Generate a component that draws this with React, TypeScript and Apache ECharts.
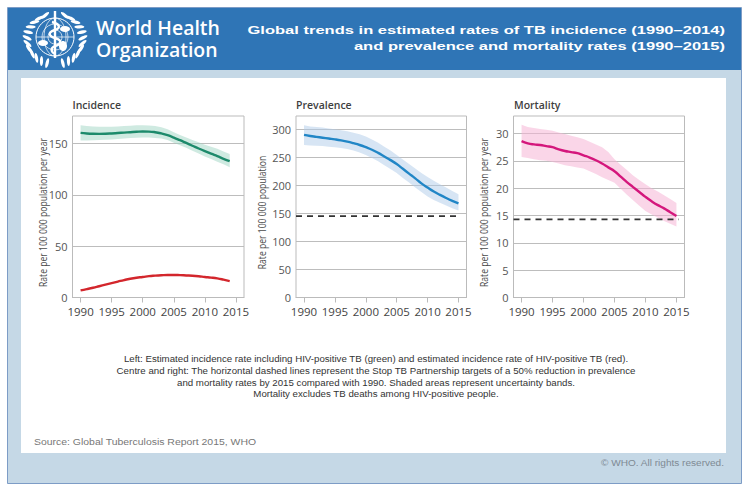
import React, { useEffect, useRef } from "react";
import * as echarts from "echarts";

const yearsInc = [1990,1991,1992,1993,1994,1995,1996,1997,1998,1999,2000,2001,2002,2003,2004,2005,2006,2007,2008,2009,2010,2011,2012,2013,2014];
const yearsAll = [...yearsInc, 2015];
const tickYears = [1990,1995,2000,2005,2010,2015];

const incidenceTicks = [0,50,100,150];
const prevalenceTicks = [0,50,100,150,200,250,300];
const mortalityTicks = [0,5,10,15,20,25,30];

const incGreen = [160.5,160,159.7,159.6,159.7,160,160.4,160.8,161.2,161.6,161.9,161.8,161.2,160,158.3,156,153.4,150.7,148,145.3,142.7,140.2,137.8,135.3,133];
const incGreenHi = [168,167.3,166.8,166.5,166.4,166.5,166.8,167.2,167.6,167.9,168,167.8,167.2,166,164,161.2,158.5,156,153.6,151.3,149,147,145,142.5,140];
const incGreenLo = [153,153.2,153.4,153.6,153.8,154,154.5,155,155.5,155.8,156,156,155.6,155,153.5,151,148.5,146,143.2,140.4,137.5,135,132.5,130,127];
const incRed = [7,8.2,9.5,11,12.5,14,15.5,17,18.3,19.3,20,20.8,21.3,21.7,22,22,21.8,21.5,21.2,20.7,20,19.4,18.6,17.4,16];

const prev = [290,288,286.5,285,283.5,282,280.2,278,275.2,272,268,263.5,258,251.5,245,238,229.5,221,212.5,203.5,196,189,183,177.5,172.5,168];
const prevHi = [307,305,304,303,301.5,300,298.5,296.5,294,291,287,282,276,269,262,254,246,238,230,222,215,208,202,196,190,184];
const prevLo = [272,271,270.5,270,269,268,266.5,265,262,258.5,254,249,243,236,229,222,213,205,196,188,180,174,169,164,159,155];
const prevTarget = 145;

const mort = [28.6,28.2,28,27.9,27.7,27.5,27.1,26.8,26.6,26.4,26,25.6,25.1,24.5,23.8,23.1,22.1,21.1,20.2,19.3,18.4,17.6,16.9,16.3,15.6,14.9];
const mortHi = [31.6,31.2,31,30.8,30.7,30.5,30.2,29.9,29.6,29.3,29,28.5,28,27.5,26.6,25.3,24.3,23.3,22.3,21.5,20.7,20,19.4,18.7,18,17.3];
const mortLo = [25.7,25.5,25.3,25.1,25,24.8,24.5,24.2,24,23.8,23.6,23.1,22.6,22,21.5,21,19.9,18.8,17.8,16.8,15.8,15.2,14.6,14,13.5,13];
const mortTarget = 14.3;

const notes = [
  "Left: Estimated incidence rate including HIV-positive TB (green) and estimated incidence rate of HIV-positive TB (red).",
  "Centre and right: The horizontal dashed lines represent the Stop TB Partnership targets of a 50% reduction in prevalence",
  "and mortality rates by 2015 compared with 1990. Shaded areas represent uncertainty bands.",
  "Mortality excludes TB deaths among HIV-positive people.",
];

const SANS = "Open Sans";
const ARIAL = "Liberation Sans";

function pairs(xs: number[], ys: number[]) {
  return xs.map((x, i) => [x, ys[i]]);
}

function band(idx: number, xs: number[], lo: number[], hi: number[], color: string) {
  return {
    type: "custom", xAxisIndex: idx, yAxisIndex: idx, silent: true, z: 3, clip: true,
    data: xs.map((x, i) => [x, lo[i], hi[i]]),
    encode: { x: 0, y: [1, 2] },
    renderItem: (params: any, api: any) => {
      if (params.dataIndex !== 0) return null;
      const top = xs.map((x, i) => api.coord([x, hi[i]]));
      const bottom = xs.map((x, i) => api.coord([x, lo[i]])).reverse();
      return { type: "polygon", shape: { points: [...top, ...bottom] }, style: { fill: color }, silent: true };
    },
  };
}

function curve(idx: number, xs: number[], ys: number[], color: string) {
  return { type: "line", xAxisIndex: idx, yAxisIndex: idx, symbol: "none", smooth: 0.5, data: pairs(xs, ys), lineStyle: { color, width: 2.4 }, z: 5 };
}

function dashed(idx: number, x0: number, x1: number, y: number) {
  return { type: "line", xAxisIndex: idx, yAxisIndex: idx, symbol: "none", data: [[x0, y], [x1, y]], lineStyle: { color: "#333", width: 1.8, type: [6, 5] }, z: 6 };
}

function xAxisOf(gridIndex: number) {
  return {
    type: "value", gridIndex, min: 1988.7, max: 2016.3,
    splitLine: { show: false },
    axisLine: { show: true, lineStyle: { color: "#bbb" } },
    axisTick: { show: true, length: 5, lineStyle: { color: "#bbb" }, customValues: tickYears },
    axisLabel: { color: "#444", fontFamily: SANS, fontSize: 11.5, margin: 8, customValues: tickYears, formatter: (v: number) => String(v) },
  };
}

function yAxisOf(gridIndex: number, max: number, ticks: number[]) {
  return {
    type: "value", gridIndex, min: 0, max,
    axisLine: { show: false },
    axisTick: { show: false, customValues: ticks },
    splitLine: { show: true, lineStyle: { color: "#bdbdbd", width: 1 } },
    axisLabel: { color: "#555", fontFamily: SANS, fontSize: 11, margin: 5, customValues: ticks, formatter: (v: number) => String(v) },
  };
}

const GREY = "#3f3f3f";
function axisName(x: number, y: number, text: string) {
  return { type: "text", x, y, rotation: Math.PI / 2, scaleX: 0.86, style: { text, fontFamily: SANS, fontSize: 10, fill: "#4a4a4a", align: "center", verticalAlign: "middle" } };
}
function panelTitle(x: number, text: string) {
  return { type: "text", x, y: 105, style: { text, fontFamily: SANS, fontSize: 10.5, fontWeight: 600, fill: GREY, align: "left", verticalAlign: "middle" } };
}

function logo() {
  const white = "#ffffff";
  const cx = 55, cy = 37;
  const els: any[] = [];
  const stroke = (w: number) => ({ fill: "none", stroke: white, lineWidth: w });
  els.push({ type: "circle", shape: { cx, cy, r: 19 }, style: stroke(1) });
  els.push({ type: "circle", shape: { cx, cy, r: 13 }, style: stroke(0.7) });
  els.push({ type: "circle", shape: { cx, cy, r: 7 }, style: stroke(0.7) });
  els.push({ type: "line", shape: { x1: cx - 19, y1: cy, x2: cx + 19, y2: cy }, style: { stroke: white, lineWidth: 0.7 } });
  els.push({ type: "ellipse", shape: { cx, cy, rx: 11, ry: 19 }, style: stroke(0.7) });
  // staff and serpent
  els.push({ type: "rect", shape: { x: cx - 1.2, y: 11, width: 2.4, height: 47 }, style: { fill: white } });
  els.push({ type: "whoSnake", x: cx, y: cy, style: { fill: "none", stroke: white, lineWidth: 2.4 } });
  // land masses
  els.push({ type: "ellipse", shape: { cx: cx - 12, cy: cy + 6, rx: 5, ry: 3 }, style: { fill: white } });
  els.push({ type: "ellipse", shape: { cx: cx + 8, cy: cy + 9, rx: 4, ry: 5 }, style: { fill: white } });
  els.push({ type: "ellipse", shape: { cx: cx + 10, cy: cy - 8, rx: 5, ry: 3 }, style: { fill: white } });
  // laurel leaves
  for (const side of [-1, 1]) {
    for (let i = 0; i < 12; i++) {
      const a = (-70 + i * 13) * Math.PI / 180;
      const r = 29 - i * 0.2;
      const lx = cx + side * r * Math.cos(a);
      const ly = cy + 3 - r * Math.sin(-a) * 0.9;
      els.push({ type: "ellipse", shape: { cx: 0, cy: 0, rx: 5, ry: 1.6 }, x: lx, y: ly, rotation: side * (a + 0.55), style: { fill: white } });
    }
  }
  return { type: "group", children: els };
}

echarts.graphic.registerShape("whoSnake", echarts.graphic.extendPath("M-3 -15 C5 -13 6 -9 0 -7 C-7 -5 -7 -1 0 1 C7 3 7 7 0 9 C-5 11 -4 15 0 17", {}) as any);

export default function App() {
  const ref = useRef<HTMLDivElement>(null);
  useEffect(() => {
    document.body.style.margin = "0";
    const chart = echarts.init(ref.current!, null, { renderer: "svg" });
    const grid = [
      { left: 72.5, right: 749 - 244, top: 116, bottom: 491 - 297.5, show: true, borderColor: "#bbb", borderWidth: 1, backgroundColor: "transparent", z: 1 },
      { left: 296, right: 749 - 466.5, top: 116, bottom: 491 - 297.5, show: true, borderColor: "#bbb", borderWidth: 1, backgroundColor: "transparent", z: 1 },
      { left: 513.5, right: 749 - 684.5, top: 116, bottom: 491 - 297.5, show: true, borderColor: "#bbb", borderWidth: 1, backgroundColor: "transparent", z: 1 },
    ];
    const option: any = {
      animation: false,
      backgroundColor: "#ffffff",
      grid,
      xAxis: [xAxisOf(0), xAxisOf(1), xAxisOf(2)],
      yAxis: [yAxisOf(0, 177, incidenceTicks), yAxisOf(1, 323.7, prevalenceTicks), yAxisOf(2, 33.2, mortalityTicks)],
      series: [
        band(0, yearsInc, incGreenLo, incGreenHi, "rgba(160,214,196,0.5)"),
        curve(0, yearsInc, incGreen, "#1d8a6b"),
        curve(0, yearsInc, incRed, "#d3262c"),
        band(1, yearsAll, prevLo, prevHi, "rgba(176,204,234,0.5)"),
        curve(1, yearsAll, prev, "#2186c6"),
        dashed(1, 1988.7, 2015.4, prevTarget),
        band(2, yearsAll, mortLo, mortHi, "rgba(245,180,214,0.55)"),
        curve(2, yearsAll, mort, "#d4177c"),
        dashed(2, 1988.7, 2015.4, mortTarget),
      ],
      graphic: [
        { type: "rect", z: -10, silent: true, shape: { x: 7.5, y: 7.5, width: 734, height: 476 }, style: { fill: "#c5d8e6", stroke: "#7d9cc6", lineWidth: 1 } },
        { type: "rect", z: -9, silent: true, shape: { x: 8, y: 8, width: 733, height: 62 }, style: { fill: "#2f75b6" } },
        { type: "rect", z: -9, silent: true, shape: { x: 21, y: 78, width: 705, height: 375 }, style: { fill: "#ffffff" } },
        logo(),
        { type: "text", x: 96, y: 27.5, scaleX: 0.95, style: { text: "World Health", fontFamily: SANS, fontWeight: 600, fontSize: 20.5, fill: "#fff", align: "left", verticalAlign: "middle" } },
        { type: "text", x: 96, y: 49, scaleX: 0.95, style: { text: "Organization", fontFamily: SANS, fontWeight: 600, fontSize: 20.5, fill: "#fff", align: "left", verticalAlign: "middle" } },
        { type: "text", x: 725, y: 30, scaleX: 1.504, style: { text: "Global trends in estimated rates of TB incidence (1990–2014)", fontFamily: ARIAL, fontWeight: "bold", fontSize: 11, fill: "#fff", align: "right", verticalAlign: "middle" } },
        { type: "text", x: 725, y: 46, scaleX: 1.504, style: { text: "and prevalence and mortality rates (1990–2015)", fontFamily: ARIAL, fontWeight: "bold", fontSize: 11, fill: "#fff", align: "right", verticalAlign: "middle" } },
        panelTitle(72.5, "Incidence"),
        panelTitle(296, "Prevalence"),
        panelTitle(514, "Mortality"),
        axisName(43, 212.5, "Rate per 100 000 population per year"),
        axisName(262, 212.5, "Rate per 100 000 population"),
        axisName(484, 212.5, "Rate per 100 000 population per year"),
        ...notes.map((text, i) => ({ type: "text", x: 376, y: 358.5 + i * 11.8, style: { text, fontFamily: ARIAL, fontSize: 9.7, fill: "#333", align: "center", verticalAlign: "middle" } })),
        { type: "text", x: 34, y: 442, scaleX: 1.1, style: { text: "Source: Global Tuberculosis Report 2015, WHO", fontFamily: ARIAL, fontSize: 9.5, fill: "#777", align: "left", verticalAlign: "middle" } },
        { type: "text", x: 724, y: 463, scaleX: 1.06, style: { text: "© WHO. All rights reserved.", fontFamily: ARIAL, fontSize: 9.5, fill: "#7f8a94", align: "right", verticalAlign: "middle" } },
      ],
    };
    chart.setOption(option);
    return () => chart.dispose();
  }, []);
  return <div ref={ref} style={{ position: "fixed", left: 0, top: 0, width: 749, height: 491 }} />;
}
